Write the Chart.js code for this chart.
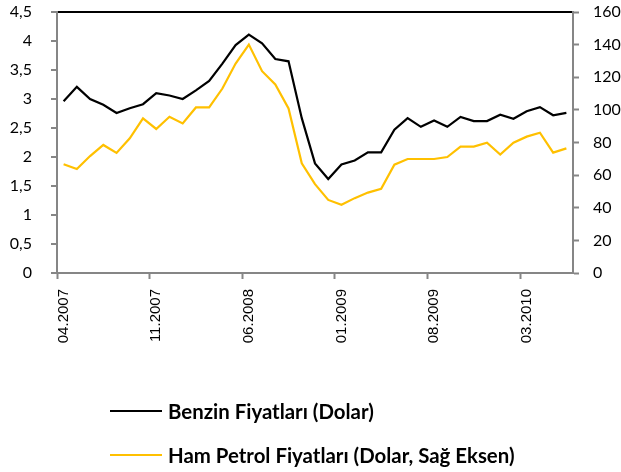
<!DOCTYPE html>
<html>
<head>
<meta charset="utf-8">
<script src="https://cdn.jsdelivr.net/npm/chart.js@4/dist/chart.umd.min.js"></script>
<style>
html,body{margin:0;padding:0;background:#fff;}
#wrap{position:relative;width:621px;height:472px;overflow:hidden;}
#c{position:absolute;left:0;top:0;}
.leg{position:absolute;left:110px;height:24px;display:flex;align-items:center;font-family:Lato,"Open Sans",sans-serif;font-weight:bold;font-size:20.4px;color:#000;white-space:nowrap;}
.leg .ln{width:52px;height:2px;margin-right:6px;}
</style>
</head>
<body>
<div id="wrap">
<canvas id="c" width="621" height="472"></canvas>
<div id="legend"></div>
</div>
<script>
const months = ["04.2007","05.2007","06.2007","07.2007","08.2007","09.2007","10.2007","11.2007","12.2007",
"01.2008","02.2008","03.2008","04.2008","05.2008","06.2008","07.2008","08.2008","09.2008","10.2008","11.2008","12.2008",
"01.2009","02.2009","03.2009","04.2009","05.2009","06.2009","07.2009","08.2009","09.2009","10.2009","11.2009","12.2009",
"01.2010","02.2010","03.2010","04.2010","05.2010","06.2010"];

const benzinLabel = "Benzin Fiyatları (Dolar)";
const benzin = [2.96,3.21,3.00,2.90,2.76,2.84,2.91,3.10,3.06,3.00,3.15,3.31,3.61,3.93,4.11,3.96,3.69,3.65,2.67,1.89,
1.62,1.87,1.94,2.08,2.08,2.47,2.67,2.52,2.63,2.52,2.69,2.62,2.62,2.73,2.66,2.79,2.86,2.72,2.76];

const petrolLabel = "Ham Petrol Fiyatları (Dolar, Sağ Eksen)";
const petrol = [66.7,63.8,71.7,78.5,73.6,82.6,94.8,88.3,95.8,91.7,101.5,101.5,113.1,128.4,140.0,123.7,115.6,100.9,67.3,54.5,
44.8,41.8,45.9,49.3,51.6,66.4,69.9,69.9,69.9,71.1,77.5,77.5,79.9,72.6,79.9,83.6,86.0,73.8,76.4];

const leftTicks = [0,0.5,1,1.5,2,2.5,3,3.5,4,4.5];
const rightTicks = [0,20,40,60,80,100,120,140,160];
const labelEvery = 7;

const axisGray = '#868686';
const yFont = {family:'Lato', size:16};

function noPad(s){ s.paddingTop = 0; s.paddingBottom = 0; s.paddingLeft = 0; s.paddingRight = 0; }

const chart = new Chart(document.getElementById('c'), {
  type:'line',
  data:{
    labels: months,
    datasets:[
      {label:benzinLabel, data:benzin, borderColor:'#000000', backgroundColor:'#000000', borderWidth:2.2, pointRadius:0, tension:0, yAxisID:'y'},
      {label:petrolLabel, data:petrol, borderColor:'#FFC000', backgroundColor:'#FFC000', borderWidth:2.2, pointRadius:0, tension:0, yAxisID:'y1'}
    ]
  },
  options:{
    responsive:false,
    animation:false,
    layout:{padding:{top:12,left:0,right:0,bottom:0}},
    plugins:{legend:{display:false}, tooltip:{enabled:false}},
    scales:{
      x:{
        offset:true,
        grid:{offset:true, drawOnChartArea:false, tickLength:6, tickWidth:2,
          tickColor:(ctx)=> (ctx.index % labelEvery === 0 && ctx.index < months.length) ? axisGray : 'rgba(0,0,0,0)'},
        border:{color:axisGray, width:2},
        ticks:{autoSkip:false, maxRotation:90, minRotation:90, padding:10, color:'#000',
          font:{family:'Liberation Sans', size:15},
          callback:(v,i)=> i % labelEvery === 0 ? months[i] : ''},
        afterFit:(s)=>{ s.height = 472-273; noPad(s); }
      },
      y:{
        position:'left', min:0, max:4.5,
        afterBuildTicks:(s)=>{ s.ticks = leftTicks.map(v=>({value:v})); },
        grid:{drawOnChartArea:true, tickLength:6, tickWidth:2, tickColor:axisGray,
          color:(ctx)=> (ctx.tick && ctx.tick.value===4.5) ? '#000000' : 'rgba(0,0,0,0)', lineWidth:2},
        border:{color:axisGray, width:2},
        ticks:{color:'#000', font:yFont, padding:19, callback:(v)=> String(v).replace('.',',')},
        afterFit:(s)=>{ s.width = 57; noPad(s); }
      },
      y1:{
        position:'right', min:0, max:160,
        afterBuildTicks:(s)=>{ s.ticks = rightTicks.map(v=>({value:v})); },
        grid:{drawOnChartArea:false, tickLength:6, tickWidth:2, tickColor:axisGray},
        border:{color:axisGray, width:2},
        ticks:{color:'#000', font:yFont, padding:14},
        afterFit:(s)=>{ s.width = 621-573; noPad(s); }
      }
    }
  }
});

// HTML legend built from the chart's datasets
const legTops = [399, 443];
const legEl = document.getElementById('legend');
chart.data.datasets.forEach((ds,i)=>{
  const row = document.createElement('div');
  row.className = 'leg';
  row.style.top = legTops[i] + 'px';
  const ln = document.createElement('span');
  ln.className = 'ln';
  ln.style.background = ds.borderColor;
  const tx = document.createElement('span');
  tx.textContent = ds.label;
  row.appendChild(ln); row.appendChild(tx);
  legEl.appendChild(row);
});
</script>
</body>
</html>
